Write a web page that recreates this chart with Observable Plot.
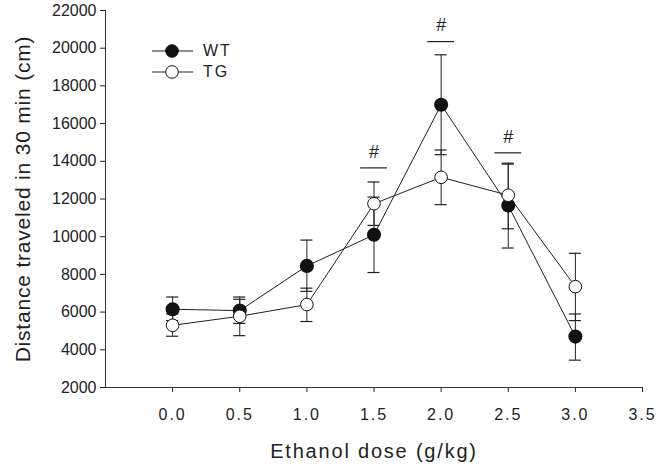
<!DOCTYPE html>
<html><head><meta charset="utf-8">
<script src="https://cdn.jsdelivr.net/npm/d3@7"></script>
<script src="https://cdn.jsdelivr.net/npm/@observablehq/plot@0.6"></script>
<style>
body{margin:0;background:#fff;font-family:"Liberation Sans",Arial,sans-serif;}
#wrap{position:relative;width:663px;height:471px;}
#legend{position:absolute;left:150px;top:40px;font-size:16px;color:#222;letter-spacing:2px;}
#legend .row{display:flex;align-items:center;height:21px;}
#legend span{margin-left:8px;}
</style></head>
<body>
<div id="wrap"><div id="chart"></div>
<div id="legend">
  <div class="row"><svg width="45" height="16"><line x1="2" x2="43" y1="8" y2="8" stroke="#222"/><circle cx="22" cy="8" r="6.3" fill="#111" stroke="#111"/></svg><span>WT</span></div>
  <div class="row"><svg width="45" height="16"><line x1="2" x2="43" y1="8" y2="8" stroke="#222"/><circle cx="22" cy="8" r="6.3" fill="#fff" stroke="#111"/></svg><span>TG</span></div>
</div></div>
<script>
const doses = [0.0, 0.5, 1.0, 1.5, 2.0, 2.5, 3.0];
const wtMean = [6150, 6080, 8450, 10100, 17000, 11650, 4700];
const wtLow  = [5550, 5400, 7100, 8100, 14350, 9400, 3450];
const wtHigh = [6800, 6800, 9820, 12100, 19650, 13850, 5900];
const tgMean = [5300, 5780, 6400, 11750, 13150, 12200, 7350];
const tgLow  = [4720, 4750, 5500, 10600, 11700, 10420, 5550];
const tgHigh = [5900, 6680, 7270, 12900, 14600, 13900, 9120];
const sigDoses = [1.5, 2.0, 2.5];
const sigY = [13650, 20350, 14450];
const yTicks = [2000,4000,6000,8000,10000,12000,14000,16000,18000,20000,22000];
const xTicks = [0.0,0.5,1.0,1.5,2.0,2.5,3.0,3.5];

const wt = doses.map((d,i)=>({dose:d, mean:wtMean[i], lo:wtLow[i], hi:wtHigh[i]}));
const tg = doses.map((d,i)=>({dose:d, mean:tgMean[i], lo:tgLow[i], hi:tgHigh[i]}));
const sig = sigDoses.map((d,i)=>({dose:d, y:sigY[i]}));
const cap = 0.045, sigHalf = 0.1;

function errMarks(data){
  return [
    Plot.ruleX(data,{x:"dose",y1:"lo",y2:"hi",stroke:"#222",strokeWidth:1}),
    Plot.ruleY(data,{y:"hi",x1:d=>d.dose-cap,x2:d=>d.dose+cap,stroke:"#222",strokeWidth:1.2}),
    Plot.ruleY(data,{y:"lo",x1:d=>d.dose-cap,x2:d=>d.dose+cap,stroke:"#222",strokeWidth:1.2})
  ];
}

const chart = Plot.plot({
  width:663, height:471,
  marginLeft:105, marginRight:21, marginTop:10, marginBottom:84,
  style:{fontFamily:"Liberation Sans, Arial, sans-serif", fontSize:"16px", color:"#222", background:"#fff"},
  x:{domain:[-0.5,3.5], ticks:xTicks, tickFormat:d3.format(".1f"), tickSize:5, tickPadding:16,
     label:"Ethanol dose (g/kg)", labelAnchor:"center", labelOffset:70, labelArrow:"none"},
  y:{domain:[2000,22000], ticks:yTicks, tickFormat:d=>String(d), tickSize:5, tickPadding:4,
     label:"Distance traveled in 30 min (cm)", labelAnchor:"center", labelOffset:90, labelArrow:"none"},
  marks:[
    Plot.ruleY([2000],{stroke:"#333"}),
    Plot.ruleX([-0.5],{stroke:"#333"}),
    Plot.line(wt,{x:"dose",y:"mean",stroke:"#222",strokeWidth:1}),
    Plot.line(tg,{x:"dose",y:"mean",stroke:"#222",strokeWidth:1}),
    ...errMarks(wt),
    ...errMarks(tg),
    Plot.dot(wt,{x:"dose",y:"mean",r:6.3,fill:"#111",stroke:"#111"}),
    Plot.dot(tg,{x:"dose",y:"mean",r:6.3,fill:"#fff",stroke:"#111",strokeWidth:1}),
    Plot.ruleY(sig,{y:"y",x1:d=>d.dose-sigHalf,x2:d=>d.dose+sigHalf,stroke:"#222",strokeWidth:1.2}),
    Plot.text(sig,{x:"dose",y:"y",text:()=>"#",dy:-16,fontSize:18,fill:"#222"})
  ]
});
document.getElementById("chart").appendChild(chart);
chart.querySelectorAll("g[aria-label='x-axis tick label'] text").forEach(t=>{t.style.letterSpacing="2px";});
chart.querySelectorAll("g[aria-label='x-axis label'] text").forEach(t=>{t.style.fontSize="20px";t.style.letterSpacing="1.8px";});
chart.querySelectorAll("g[aria-label='y-axis label'] text").forEach(t=>{t.style.fontSize="21px";t.style.letterSpacing="0.8px";});
</script>
</body></html>
